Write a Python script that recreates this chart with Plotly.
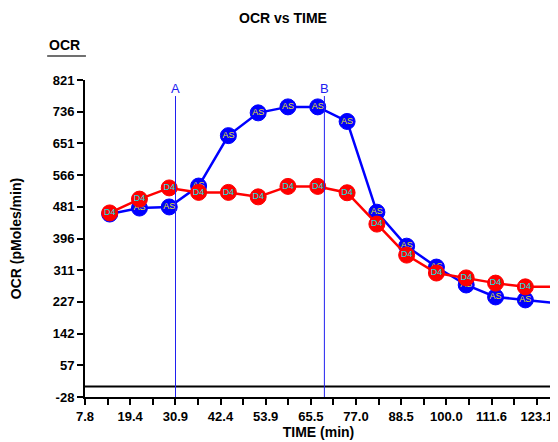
import plotly.graph_objects as go

# ---- data ----
time_min = [14.1, 21.7, 29.3, 36.8, 44.4, 52.0, 59.6, 67.2, 74.7, 82.3, 89.9, 97.5, 105.1, 112.6, 120.2, 127.8]
ocr_as = [462, 478, 481, 537, 672, 733, 749, 749, 710, 467, 376, 320, 272, 240, 232, 224]
ocr_d4 = [465, 502, 532, 520, 520, 508, 536, 536, 519, 435, 352, 304, 291, 277, 267, 267]
label_as = "AS"
label_d4 = "D4"

y_tick_vals = [-28, 56.9, 141.8, 226.7, 311.6, 396.5, 481.4, 566.3, 651.2, 736.1, 821]
y_tick_text = ["-28", "57", "142", "227", "311", "396", "481", "566", "651", "736", "821"]
x_tick_vals = [7.8, 19.33, 30.86, 42.39, 53.92, 65.45, 76.98, 88.51, 100.04, 111.57, 123.1]
x_tick_text = ["7.8", "19.4", "30.9", "42.4", "53.9", "65.5", "77.0", "88.5", "100.0", "111.6", "123.1"]
x_minor_vals = [13.57, 25.1, 36.63, 48.16, 59.69, 71.22, 82.75, 94.28, 105.81, 117.34]

injections = [("A", 30.9), ("B", 68.9)]

FONT = "Liberation Sans, Arial, sans-serif"
n = len(time_min)
sizes = [16] * (n - 1) + [0]

fig = go.Figure()
fig.add_trace(go.Scatter(
    x=time_min, y=ocr_as, mode="lines+markers+text",
    text=[label_as] * (n - 1) + [""], textposition="middle center",
    textfont=dict(family=FONT, size=9, color="#e8e020"),
    line=dict(color="#0000ff", width=2.5),
    marker=dict(symbol="circle", size=sizes, color="#0000ff", opacity=1, line=dict(color="#0000ff", width=1)),
    showlegend=False, cliponaxis=True,
))
fig.add_trace(go.Scatter(
    x=time_min, y=ocr_d4, mode="lines+markers+text",
    text=[label_d4] * (n - 1) + [""], textposition="middle center",
    textfont=dict(family=FONT, size=9, color="#00e8e8"),
    line=dict(color="#ff0000", width=2.5),
    marker=dict(symbol="circle", size=sizes, color="#ff0000", opacity=1, line=dict(color="#ff0000", width=1)),
    showlegend=False, cliponaxis=True,
))

# zero line
fig.add_shape(type="line", xref="paper", yref="y", x0=0, x1=1, y0=0, y1=0,
              line=dict(color="black", width=2))
# injection markers
for name, t in injections:
    fig.add_shape(type="line", xref="x", yref="y", x0=t, x1=t, y0=-28, y1=778,
                  line=dict(color="#2020f0", width=1))
    fig.add_annotation(x=t, y=778, xref="x", yref="y", text=name, showarrow=False,
                       yanchor="bottom", yshift=-2, font=dict(family=FONT, size=13, color="#2020f0"))

fig.update_layout(
    width=550, height=434,
    margin=dict(l=74, r=5, t=72, b=45),
    paper_bgcolor="white", plot_bgcolor="white",
    title=dict(text="<b>OCR vs TIME</b>", x=0.5, xanchor="center", y=0.977, yanchor="middle",
               font=dict(family=FONT, size=14, color="black")),
    xaxis=dict(range=[7.8, 127.0], tickvals=x_tick_vals, ticktext=x_tick_text,
               ticks="outside", ticklen=6, tickwidth=2, tickcolor="black",
               showline=True, linecolor="black", linewidth=2, showgrid=False, zeroline=False,
               tickfont=dict(family=FONT, size=13, color="black", weight="bold"),
               minor=dict(tickvals=x_minor_vals, ticks="outside", ticklen=6, tickwidth=2, tickcolor="black"),
               title=dict(text="<b>TIME (min)</b>", standoff=0, font=dict(family=FONT, size=14, color="black"))),
    yaxis=dict(range=[-28, 821], tickvals=y_tick_vals, ticktext=y_tick_text,
               ticks="outside", ticklen=6, tickwidth=2, tickcolor="black",
               showline=True, linecolor="black", linewidth=2, showgrid=False, zeroline=False,
               tickfont=dict(family=FONT, size=13, color="black", weight="bold"),
               title=dict(text="<b>OCR (pMoles/min)</b>", standoff=30, font=dict(family=FONT, size=14, color="black"))),
)

# "OCR" header with grey underline (paper coordinates)
fig.add_annotation(x=-0.081, y=1.110, xref="paper", yref="paper", text="<b>OCR</b>", showarrow=False,
                   xanchor="left", yanchor="middle", font=dict(family=FONT, size=14, color="black"))
fig.add_shape(type="line", xref="paper", yref="paper", x0=-0.081, x1=0.002, y0=1.076, y1=1.076,
              line=dict(color="#707070", width=2))

fig.write_html("out.html")
